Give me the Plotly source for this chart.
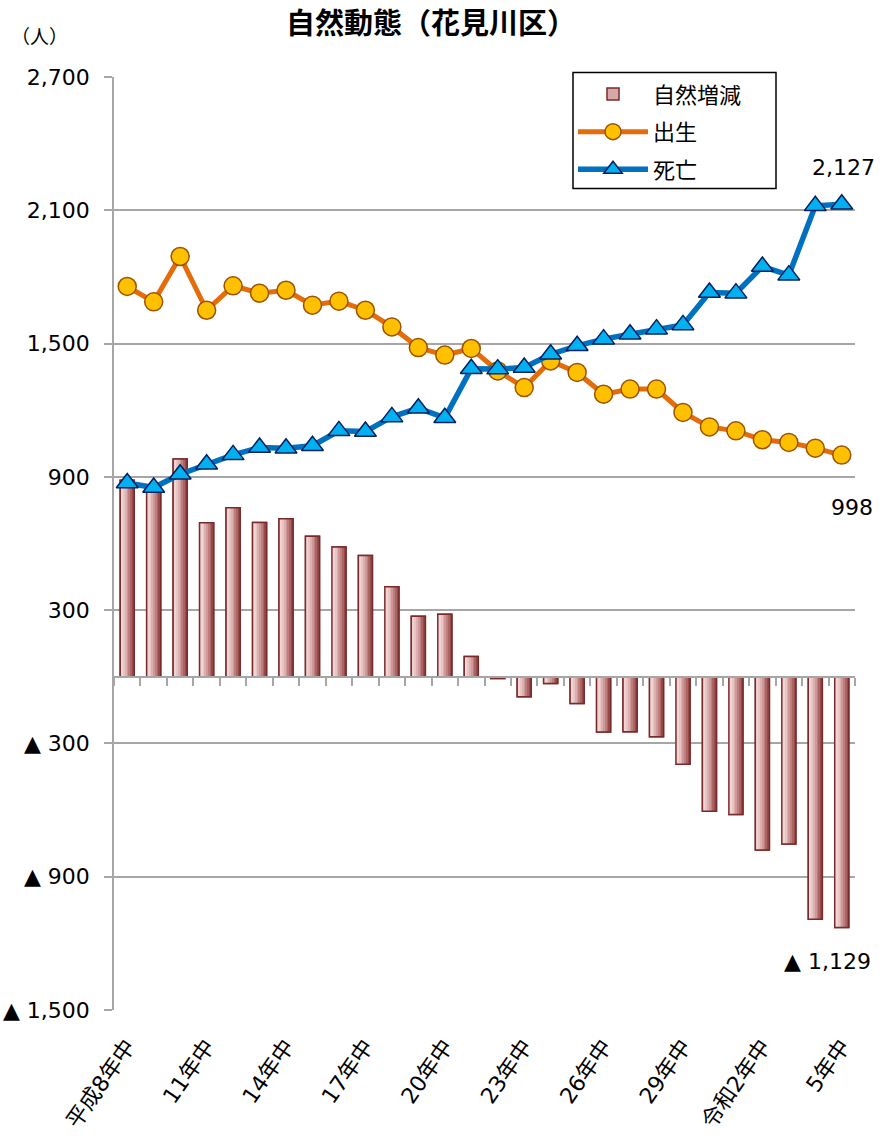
import plotly.graph_objects as go

years = ["平成8年中", "9年中", "10年中", "11年中", "12年中", "13年中", "14年中",
         "15年中", "16年中", "17年中", "18年中", "19年中", "20年中", "21年中",
         "22年中", "23年中", "24年中", "25年中", "26年中", "27年中", "28年中",
         "29年中", "30年中", "令和元年中", "令和2年中", "3年中", "4年中", "5年中"]
tick_years = ["平成8年中", "11年中", "14年中", "17年中", "20年中", "23年中",
              "26年中", "29年中", "令和2年中", "5年中"]
tick_text = ["平成8年中", "11年中", "14年中", "17年中", "20年中", "23年中",
             "26年中", "29年中", "令和2年中", "5年中"]

births = [1757, 1688, 1892, 1650, 1760, 1727, 1740, 1673, 1691, 1650, 1575, 1482,
          1448, 1478, 1377, 1302, 1422, 1370, 1272, 1295, 1295, 1190, 1125, 1107,
          1067, 1055, 1029, 998]
deaths = [872, 852, 912, 957, 999, 1032, 1029, 1040, 1107, 1104, 1170, 1209,
          1166, 1387, 1385, 1392, 1452, 1490, 1520, 1542, 1565, 1584, 1730, 1727,
          1847, 1808, 2120, 2127]
natural = [885, 836, 980, 693, 761, 695, 711, 633, 584, 546, 405, 273, 282, 91,
           -8, -90, -30, -120, -248, -247, -270, -394, -605, -620, -780, -753,
           -1091, -1129]

y_tickvals = [-1500, -900, -300, 300, 900, 1500, 2100, 2700]
y_ticktext = ["▲ 1,500", "▲ 900", "▲ 300", "300", "900", "1,500", "2,100", "2,700"]

FONT = "DejaVu Sans, Noto Sans CJK JP, sans-serif"
GRID = "#A6A6A6"
BAR_EDGE = "#7A2A2A"
BAR_W = 0.53
FS = 22

fig = go.Figure()

# bar legend/base trace
fig.add_trace(go.Bar(x=years, y=natural, name="自然増減", width=BAR_W, legendgroup="a",
                     marker=dict(color="#D8A8A8", line=dict(color=BAR_EDGE, width=1.5)),
                     hoverinfo="skip"))
# gradient strips
grad = ["#F4E0E0", "#EFD4D4", "#E8C4C4", "#DDB0B0", "#CF9898", "#BE7E7E",
        "#AB6464", "#964B4B"]
n = len(grad)
sw = BAR_W / n
for i, c in enumerate(grad):
    fig.add_trace(go.Bar(x=years, y=natural, width=sw, offset=-BAR_W / 2 + i * sw,
                         marker=dict(color=c, line=dict(width=0)),
                         showlegend=False, hoverinfo="skip"))
# outline on top
fig.add_trace(go.Bar(x=years, y=natural, width=BAR_W,
                     marker=dict(color="rgba(0,0,0,0)", line=dict(color=BAR_EDGE, width=1.5)),
                     showlegend=False, hoverinfo="skip"))

fig.add_trace(go.Scatter(x=years, y=births, name="出生", mode="lines+markers", legendgroup="b",
                         line=dict(color="#E46C0A", width=5),
                         marker=dict(symbol="circle", size=18, color="#FFC000",
                                     line=dict(color="#9C5200", width=1.5))))
fig.add_trace(go.Scatter(x=years, y=deaths, name="死亡", mode="lines+markers", legendgroup="c",
                         line=dict(color="#0070C0", width=5.5),
                         marker=dict(symbol="triangle-up", size=19, color="#00B0F0",
                                     line=dict(color="#002060", width=1.5))))

# invisible trace to carry the zero-line axis
fig.add_trace(go.Scatter(x=years, y=natural, xaxis="x2", mode="markers",
                         marker=dict(opacity=0), showlegend=False, hoverinfo="skip"))

fig.add_annotation(x=years[-1], y=deaths[-1], text=f"{deaths[-1]:,}", showarrow=False,
                   yshift=37, xshift=2, font=dict(size=FS, color="black", family=FONT))
fig.add_annotation(x=years[-1], y=births[-1], text=f"{births[-1]:,}", showarrow=False,
                   yshift=-52, xshift=10, font=dict(size=FS, color="black", family=FONT))
fig.add_annotation(x=years[-1], y=natural[-1], text=f"▲ {abs(natural[-1]):,}", showarrow=False,
                   yshift=-34, xshift=-14, font=dict(size=FS, color="black", family=FONT))

fig.add_annotation(xref="paper", yref="paper", x=(431 - 114) / 741, y=1.0563,
                   xanchor="center", yanchor="middle",
                   text="<b>自然動態（花見川区）</b>", showarrow=False,
                   font=dict(size=29, color="black", family=FONT))

fig.add_annotation(xref="paper", yref="paper", x=-0.1, y=1.0434, xanchor="center",
                   yanchor="middle", text="（人）", showarrow=False,
                   font=dict(size=19, color="black", family=FONT))

# legend frame
fig.add_shape(type="rect", xref="paper", yref="paper",
              x0=(573 - 114) / 741, x1=(776 - 114) / 741,
              y0=(1010 - 189) / 932.5, y1=(1010 - 73) / 932.5,
              fillcolor="white", line=dict(color="black", width=1.5), layer="between")

fig.update_layout(
    width=883, height=1145,
    margin=dict(l=114, r=28, t=77, b=135, autoexpand=False),
    paper_bgcolor="white", plot_bgcolor="white",
    barmode="overlay",
    font=dict(family=FONT, color="black", size=FS),
    legend=dict(x=(573 - 114) / 741, y=1.004, xanchor="left", yanchor="top",
                borderwidth=0, bgcolor="rgba(0,0,0,0)",
                font=dict(size=FS), itemwidth=70, tracegroupgap=6),
    xaxis=dict(type="category", range=[-0.5, 27.5], showgrid=False, showline=False,
               ticks="", tickvals=tick_years, ticktext=tick_text, tickangle=-55,
               tickfont=dict(size=FS), categoryorder="array", categoryarray=years,
               ticklabelstandoff=18),
    xaxis2=dict(type="category", overlaying="x", matches="x", anchor="free",
                position=1500 / 4200, showline=True, linecolor=GRID, linewidth=1.5,
                ticks="outside", ticklen=8, tickwidth=1.5, tickcolor=GRID,
                tickson="boundaries", showticklabels=False, showgrid=False,
                categoryorder="array", categoryarray=years),
    yaxis=dict(range=[-1500, 2700], tickvals=y_tickvals, ticktext=y_ticktext,
               showgrid=True, gridcolor=GRID, gridwidth=1.5, zeroline=False,
               showline=True, linecolor=GRID, linewidth=1.5,
               ticks="outside", ticklen=8, tickwidth=1.5, tickcolor=GRID,
               tickfont=dict(size=FS), ticklabelstandoff=10),
    showlegend=True,
)

fig.write_html("out.html", config={"displayModeBar": False},
               post_script="document.body.style.margin='0';")
